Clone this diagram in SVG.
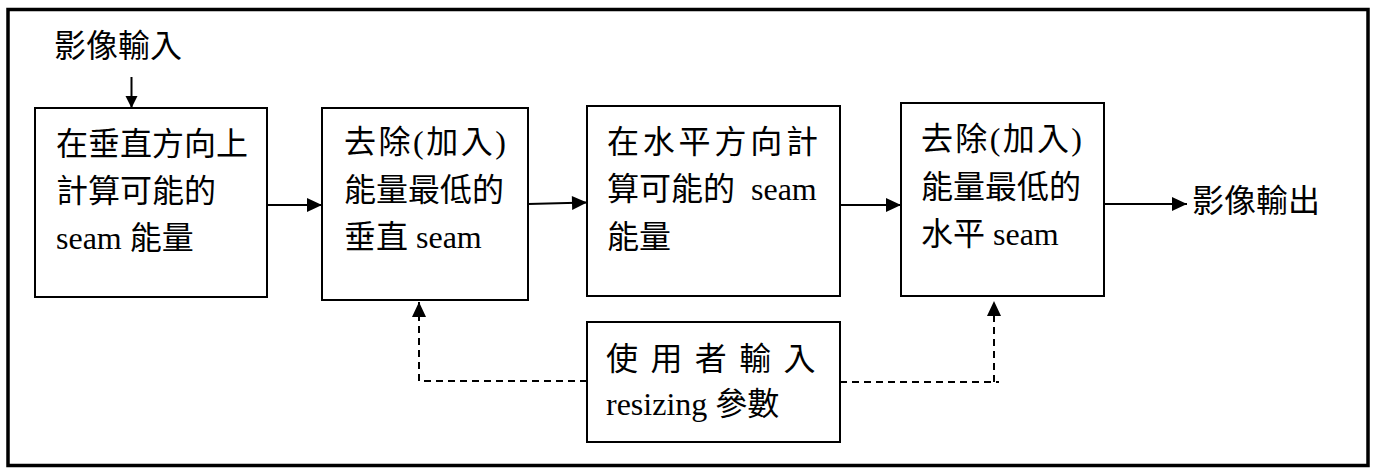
<svg xmlns="http://www.w3.org/2000/svg" width="1375" height="468" viewBox="0 0 1375 468">
<style>
.box{fill:#fff;stroke:#000;stroke-width:2}
.t{font-family:"Liberation Serif","Noto Sans CJK TC",serif;font-size:32px;fill:#000}
.c{fill:none;stroke:#000;stroke-width:2}
.d{fill:none;stroke:#000;stroke-width:2;stroke-dasharray:7 5}
</style>
<defs>
<marker id="ah" markerUnits="userSpaceOnUse" markerWidth="15" markerHeight="14" refX="15" refY="7" orient="auto" overflow="visible">
<path d="M0,0 L15,7 L0,14 z" fill="#000"/>
</marker>
<marker id="ahs" markerUnits="userSpaceOnUse" markerWidth="12" markerHeight="12" refX="12" refY="6" orient="auto" overflow="visible">
<path d="M0,0 L12,6 L0,12 z" fill="#000"/>
</marker>
</defs>
<rect width="1375" height="468" fill="#fff"/>
<rect id="frame" x="8" y="9.5" width="1360" height="456" fill="none" stroke="#000" stroke-width="3.5"/>

<g id="input-label"><text class="t" x="54" y="57">影像輸入</text></g>

<g id="n1">
<rect class="box" x="35" y="108" width="232" height="189"/>
<text class="t" x="56" y="155">在垂直方向上</text>
<text class="t" x="56" y="202">計算可能的</text>
<text class="t" x="56" y="249">seam 能量</text>
</g>

<g id="n2">
<rect class="box" x="322" y="108" width="206" height="192"/>
<text class="t" x="344" y="153" textLength="162" lengthAdjust="spacing">去除(加入)</text>
<text class="t" x="344" y="201">能量最低的</text>
<text class="t" x="344" y="248">垂直 seam</text>
</g>

<g id="n3">
<rect class="box" x="587" y="106" width="253" height="190"/>
<text class="t" x="607" y="153" letter-spacing="3.8">在水平方向計</text>
<text class="t" x="607" y="200" xml:space="preserve">算可能的  seam</text>
<text class="t" x="607" y="248">能量</text>
</g>

<g id="n4">
<rect class="box" x="901" y="103" width="203" height="193"/>
<text class="t" x="921" y="150" textLength="161" lengthAdjust="spacing">去除(加入)</text>
<text class="t" x="921" y="198">能量最低的</text>
<text class="t" x="921" y="245">水平 seam</text>
</g>

<g id="n5">
<rect class="box" x="587" y="322" width="253" height="120"/>
<text class="t" x="606" y="370" letter-spacing="2.2">使 用 者 輸 入</text>
<text class="t" x="606" y="415">resizing 參數</text>
</g>

<g id="output-label"><text class="t" x="1192" y="212">影像輸出</text></g>

<g id="connectors">
<path class="c" d="M131.5,77 V108" marker-end="url(#ahs)"/>
<path class="c" d="M267,205 H322" marker-end="url(#ah)"/>
<path class="c" d="M528,204 L587,202.5" marker-end="url(#ah)"/>
<path class="c" d="M840,205 H901" marker-end="url(#ah)"/>
<path class="c" d="M1104,204 H1187" marker-end="url(#ah)"/>
<path class="d" d="M587,381 H419 V302" marker-end="url(#ah)"/>
<path class="d" d="M840,382 H999"/>
<path class="d" d="M994,382 V301" marker-end="url(#ah)"/>
</g>
</svg>
